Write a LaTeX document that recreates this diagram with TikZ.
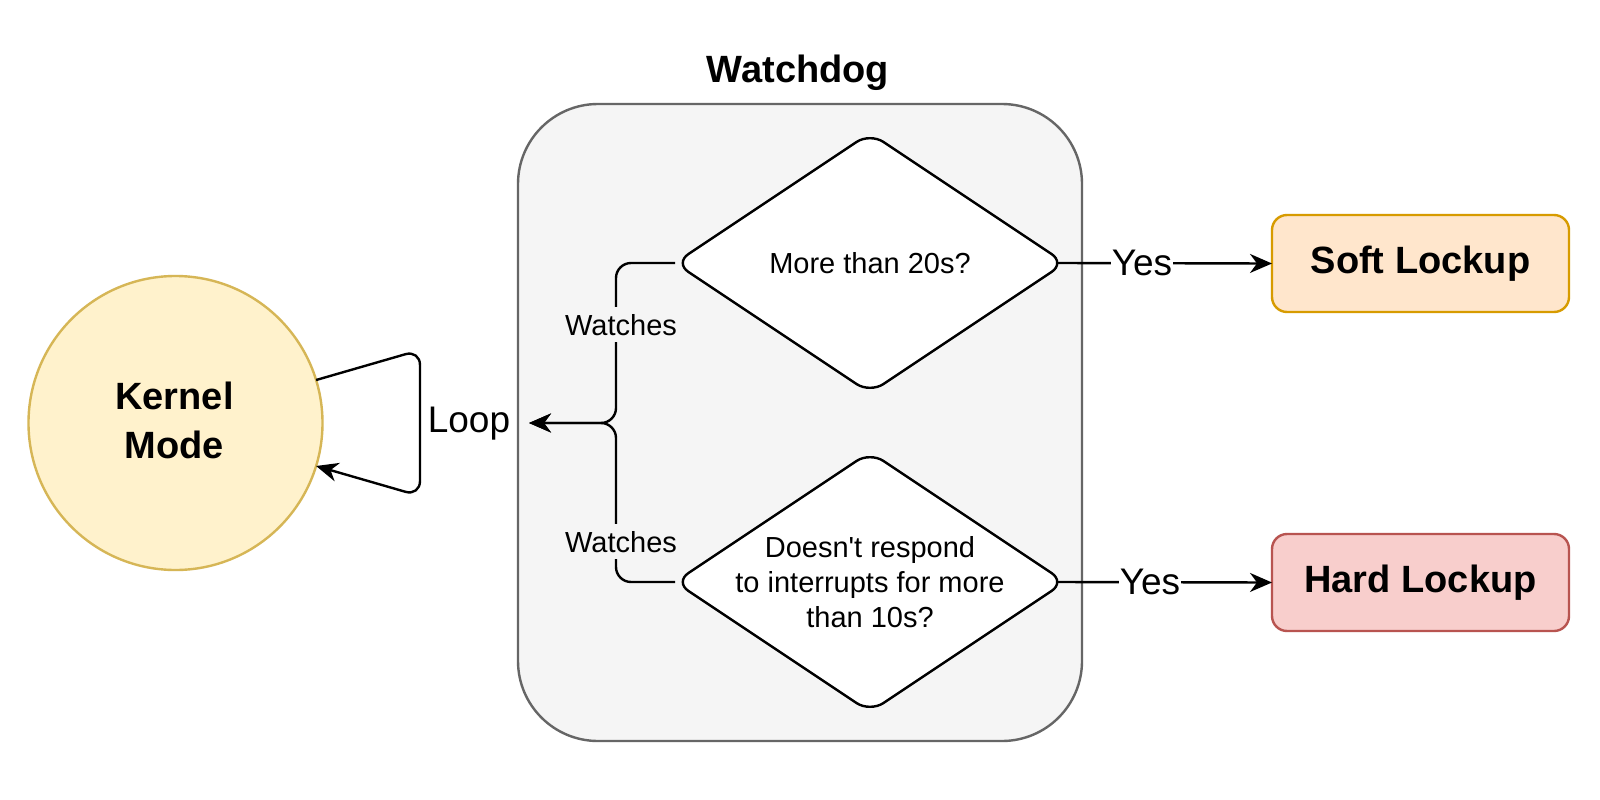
\documentclass[tikz,border=0pt]{standalone}
\usepackage{fontspec}
\setmainfont{Liberation Sans}
\usetikzlibrary{shapes.geometric,arrows.meta}
\definecolor{wdfill}{HTML}{F5F5F5}
\definecolor{wdline}{HTML}{666666}
\definecolor{kmfill}{HTML}{FFF2CC}
\definecolor{kmline}{HTML}{D6B656}
\definecolor{softfill}{HTML}{FFE6CC}
\definecolor{softline}{HTML}{D79B00}
\definecolor{hardfill}{HTML}{F8CECC}
\definecolor{hardline}{HTML}{B85450}
\begin{document}
\begin{tikzpicture}[x=1pt,y=-1pt,
  conn/.style={line width=2.4pt, -{Stealth[length=22pt,width=19pt,inset=7pt]}},
  bigbold/.style={font=\fontsize{38}{49}\selectfont\bfseries},
  midtext/.style={font=\fontsize{29}{35}\selectfont},
  edgetext/.style={font=\fontsize{37}{44}\selectfont},
  decision/.style={diamond, draw=black, fill=white, line width=2.4pt, rounded corners=16pt, minimum width=390pt, minimum height=260pt, inner sep=0pt, outer sep=0pt},
  result/.style={rectangle, rounded corners=15pt, minimum width=297pt, minimum height=97pt, line width=2.4pt, outer sep=0pt, bigbold},
]
\useasboundingbox (0,0) rectangle (1600,800);
\fill[white] (0,0) rectangle (1600,800);

% container
\node[rectangle, rounded corners=80pt, minimum width=564pt, minimum height=637pt, draw=wdline, fill=wdfill, line width=2.4pt] (wd) at (800,422.5) {};
\node[bigbold, anchor=base] (wdt) at (798,82) {Watchdog};

% kernel mode
\node[circle, minimum size=294pt, inner sep=0pt, outer sep=0pt, draw=kmline, fill=kmfill, line width=2.4pt, bigbold, align=center] (km) at (175.5,423) {};
\node[bigbold, anchor=base] (km1) at (174.5,409) {Kernel};
\node[bigbold, anchor=base] (km2) at (174.5,458) {Mode};

% decisions
\node[decision] (d1) at (870,263) {};
\node[midtext] (d1t) at (d1.center) {More than 20s?};
\node[decision] (d2) at (870,582) {};
\node[midtext, align=center] (d2t) at (d2.center) {Doesn\textquotesingle t respond\\to interrupts for more\\than 10s?};

% results
\node[result, draw=softline, fill=softfill] (soft) at (1420.5,263.5) {Soft Lockup};
\node[result, draw=hardline, fill=hardfill] (hard) at (1420.5,582.5) {Hard Lockup};

% brace connectors
\coordinate (bx) at (616,423);
\coordinate (bt) at (529,423);
\draw[conn, rounded corners=15pt] (d1.west) -| (bx) -- (bt);
\draw[conn, rounded corners=15pt] (d2.west) -| (bx) -- (bt);
\node[midtext, fill=wdfill, inner xsep=2pt, inner ysep=6.5pt, anchor=base] (w1) at (621,335) {Watches};
\node[midtext, fill=wdfill, inner xsep=2pt, inner ysep=6.5pt, anchor=base] (w2) at (621,552) {Watches};

% yes connectors
\draw[conn] ([xshift=-8pt]d1.east) -- (soft.west);
\node[edgetext, fill=white, inner xsep=1pt, anchor=base] (y1) at (1142,275) {Yes};
\draw[conn] ([xshift=-8pt]d2.east) -- (hard.west);
\node[edgetext, fill=white, inner xsep=1pt, anchor=base] (y2) at (1150,594) {Yes};

% loop
\coordinate (lt) at (420,350);
\coordinate (lb) at (420,496);
\draw[conn, rounded corners=15pt] (km.17) -- (lt) -- (lb) -- (km.-17);
\node[edgetext, anchor=base] (lp) at (469,432) {Loop};
\end{tikzpicture}
\end{document}
